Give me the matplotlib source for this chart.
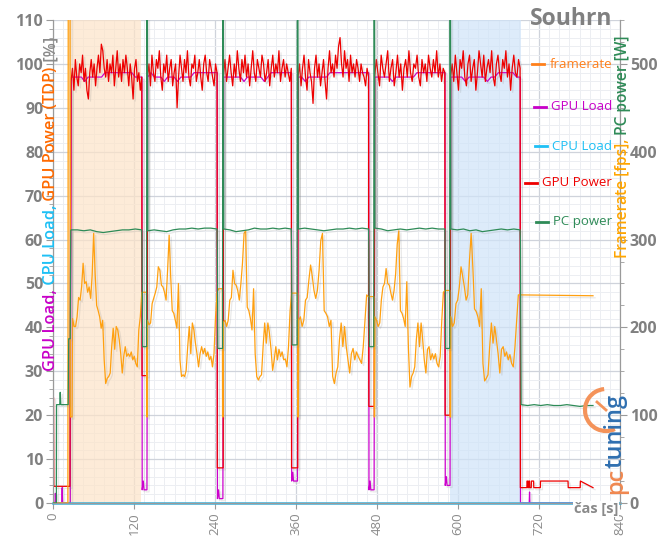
import numpy as np
import matplotlib
matplotlib.use("Agg")
import matplotlib.pyplot as plt
from matplotlib.transforms import IdentityTransform
from matplotlib.patches import Arc
from matplotlib.lines import Line2D
from matplotlib.ticker import MultipleLocator
import matplotlib.patheffects as pe

plt.rcParams['font.family'] = ['Open Sans', 'DejaVu Sans']

# ---------------- data ----------------
x_ticks = [0, 120, 240, 360, 480, 600, 720, 840]
left_ticks = [0, 10, 20, 30, 40, 50, 60, 70, 80, 90, 100, 110]
right_ticks = [0, 100, 200, 300, 400, 500]

highlight_spans = [(22.3, 130.6), (587.7, 693.0)]

# benchmark run boundaries [s]
run_end = [131.5, 243.0, 353.0, 467.5, 580.5, 692.0]
run_begin = [26.3, 139.5, 252.0, 362.5, 476.0, 588.5]

# framerate [fps] per run
fps_windows = [(29.0, 133.8), (140.0, 245.4), (252.5, 353.6), (364.0, 467.2), (477.0, 580.7), (589.5, 689.4)]
fps_run1 = [210, 201, 201, 212, 234, 231, 246, 273, 250, 252, 240, 246, 233, 259, 307, 261, 225, 219, 212, 199,
            208, 163, 136, 142, 144, 148, 178, 199, 175, 201, 197, 186, 170, 148, 167, 178, 167, 170, 167, 172,
            163, 167, 159, 155, 197, 212, 240, 240]
fps_run2 = [208, 203, 205, 227, 233, 239, 246, 269, 265, 248, 246, 240, 231, 265, 305, 258, 219, 216, 208, 199,
            250, 163, 144, 146, 144, 151, 178, 201, 170, 205, 197, 182, 170, 155, 170, 178, 170, 176, 167, 172,
            163, 167, 155, 170, 212, 240, 244]
fps_run3 = [206, 208, 201, 208, 231, 234, 265, 250, 248, 242, 231, 250, 273, 307, 310, 223, 219, 210, 197, 244,
            170, 144, 140, 144, 146, 178, 205, 182, 205, 193, 175, 151, 163, 178, 163, 175, 167, 172, 163, 164,
            155, 178, 219, 239]
fps_run4 = [208, 212, 201, 208, 231, 234, 254, 271, 258, 242, 233, 242, 265, 299, 307, 219, 216, 212, 201, 208,
            144, 136, 148, 155, 186, 205, 178, 201, 178, 163, 148, 170, 176, 163, 172, 167, 163, 159, 178, 208,
            237, 235]
fps_run5 = [212, 208, 201, 205, 231, 246, 250, 267, 250, 248, 239, 231, 242, 261, 295, 310, 219, 216, 210, 201,
            252, 178, 132, 144, 148, 155, 186, 205, 178, 205, 186, 163, 148, 175, 178, 163, 170, 164, 170, 159,
            155, 167, 208, 240, 242]
fps_run6 = [212, 201, 205, 227, 231, 246, 269, 258, 246, 231, 237, 276, 307, 269, 221, 218, 212, 201, 244, 159,
            139, 142, 146, 178, 205, 182, 201, 186, 170, 148, 175, 178, 167, 172, 163, 169, 159, 155, 178, 208, 237]
fps_start_t = [0, 22.0, 22.6, 25.2, 25.8, 28.2]
fps_start_v = [0, 0, 620, 620, 98, 98]
gap_fps_low = [98, 98, 98, 98, 98]
fps_tail_t = [800.0]
fps_tail_v = [236]

# GPU power [% TDP] per run
gpu_pow_run1 = [96, 99, 94, 101, 97, 95, 100, 98, 102, 96, 99, 94, 92, 98, 101, 97, 100, 95, 99, 102, 98, 104.5,
                103, 99, 97, 101, 96, 100, 98, 102, 95, 99, 103, 97, 100, 96, 101, 98, 102, 99, 95, 100, 97, 92,
                99, 101, 96, 98, 94, 97]
gpu_pow_run2 = [97, 100, 95, 102, 98, 96, 101, 99, 103, 97, 94, 100, 98, 102, 96, 99, 101, 95, 98, 100, 90, 97,
                102, 99, 96, 101, 98, 103, 97, 95, 100, 99, 102, 96, 98, 101, 97, 94, 100, 102, 98, 96, 101, 99,
                97, 95, 100, 98]
gpu_pow_run3 = [97, 101, 96, 99, 102, 98, 95, 100, 97, 103, 99, 96, 101, 98, 102, 97, 100, 95, 99, 103, 98, 96,
                101, 99, 97, 102, 100, 96, 98, 101, 95, 99, 102, 97, 100, 98, 103, 96, 99, 101, 97, 100, 98, 96, 99]
gpu_pow_run4 = [97, 100, 95, 99, 102, 97, 94, 101, 98, 96, 91, 99, 102, 97, 100, 95, 98, 101, 96, 92, 99, 103,
                98, 100, 97, 102, 99, 104, 106, 100, 97, 103, 99, 101, 96, 102, 98, 100, 97, 101, 99, 96, 100, 98,
                97, 95, 99, 97]
gpu_pow_run5 = [97, 101, 98, 95, 102, 99, 97, 100, 103, 96, 99, 101, 95, 98, 102, 97, 100, 94, 99, 101, 97, 103,
                98, 96, 100, 99, 102, 97, 95, 101, 98, 100, 96, 102, 99, 97, 101, 98, 103, 97, 100, 96, 99, 98]
gpu_pow_run6 = [97, 100, 96, 102, 98, 94, 101, 99, 103, 97, 95, 100, 102, 96, 99, 101, 94, 98, 103, 100, 97, 102,
                96, 99, 101, 98, 103, 97, 95, 100, 102, 98, 96, 101, 99, 103, 97, 100, 94, 99, 102, 98, 97, 101, 99]
gpu_pow_start_t = [0, 0.8, 1.2, 25.0, 25.6]
gpu_pow_start_v = [24, 24, 3.8, 3.8, 43]
gap_gpu_pow_low = [29, 8, 8, 22, 20]
gpu_pow_tail_t = [692.4, 702.0, 702.3, 703.0, 703.3, 704.5, 704.8, 706.0, 706.3, 708.5, 708.8, 712.0, 712.3,
                  722.0, 722.3, 763.0, 763.3, 781.0, 781.3, 800.0]
gpu_pow_tail_v = [3.5, 3.5, 5, 5, 3.5, 3.5, 5, 5, 3.5, 3.5, 5, 5, 3.5, 3.5, 5, 5, 3.5, 3.5, 5, 3.5]

# GPU load [%] per run
gpu_load_run1 = [97, 97, 97, 97, 96, 97, 97, 97, 97, 97, 98, 98, 98, 98, 98, 98, 98, 98, 98, 97, 97, 97]
gpu_load_run2 = [97, 98, 97, 97, 97, 96, 97, 97, 97, 96, 97, 97, 97, 97, 98, 98, 98, 98, 98, 98, 98, 98]
gpu_load_run3 = [97, 97, 97, 97, 97, 97, 96, 97, 97, 97, 97, 97, 96, 97, 98, 98, 98, 98, 98, 98, 98]
gpu_load_run4 = [97, 97, 96, 97, 97, 97, 97, 97, 97, 98, 98, 98, 98, 98, 98, 98, 98, 98, 98, 98, 98]
gpu_load_run5 = [97, 97, 97, 97, 97, 96, 97, 97, 97, 97, 97, 97, 98, 98, 98, 98, 98, 98, 98, 98, 98]
gpu_load_run6 = [97, 97, 97, 97, 96, 97, 97, 97, 97, 97, 96, 97, 97, 98, 98, 98, 98, 98, 97, 97]
gpu_load_start_t = [0, 3.0, 3.5, 4.2, 13.0, 13.6, 14.2, 25.6, 26.2]
gpu_load_start_v = [0, 0, 2.2, 0, 0, 3.5, 0, 0, 45]
gap_gpu_load_low = [3, 1, 5, 3, 4]
gap_gpu_load_mid = [52, 50, 52, 52, 52]
gpu_load_tail_t = [692.6, 705.5, 706.0, 706.5, 800.0]
gpu_load_tail_v = [0, 0, 2.5, 0, 0]

# CPU load [%]
cpu_load_t = [0, 840]
cpu_load_v = [0, 0]

# PC power [W] per run
pc_run1 = [311, 311, 310, 311, 309, 308, 309, 310, 311, 311, 312, 311]
pc_run2 = [310, 311, 310, 309, 311, 312, 312, 313, 312, 313, 313, 312]
pc_run3 = [312, 311, 309, 310, 311, 313, 312, 312, 313, 312, 313, 312]
pc_run4 = [312, 313, 312, 311, 310, 311, 312, 312, 313, 312, 313, 312]
pc_run5 = [313, 312, 310, 311, 312, 311, 312, 313, 312, 313, 312, 312]
pc_run6 = [312, 311, 312, 310, 311, 309, 310, 311, 312, 311, 312, 311]
pc_start_t = [0, 5.0, 5.3, 10.0, 10.7, 11.5, 22.5, 23.3, 25.5, 26.3]
pc_start_v = [0, 0, 112, 112, 126, 112, 112, 187, 187, 310]
gap_pc_mid = [290, 292, 290, 292, 290]
gap_pc_low = [178, 176, 180, 178, 176]
gap_pc_spike = [620, 620, 620, 620, 620]
pc_tail_v = [296, 112, 111, 112, 111, 112, 111, 111, 112, 111, 110, 111, 111]

# ---------------- assemble series ----------------
fps_runs = [fps_run1, fps_run2, fps_run3, fps_run4, fps_run5, fps_run6]
pow_runs = [gpu_pow_run1, gpu_pow_run2, gpu_pow_run3, gpu_pow_run4, gpu_pow_run5, gpu_pow_run6]
load_runs = [gpu_load_run1, gpu_load_run2, gpu_load_run3, gpu_load_run4, gpu_load_run5, gpu_load_run6]
pc_runs = [pc_run1, pc_run2, pc_run3, pc_run4, pc_run5, pc_run6]

fps_t, fps_v = list(fps_start_t), list(fps_start_v)
for k in range(6):
    s, e = fps_windows[k]
    vals = fps_runs[k]
    fps_t += list(np.linspace(s, e, len(vals))); fps_v += vals
    if k < 5:
        ns = fps_windows[k + 1][0]
        fps_t += [ns - 1.6, ns - 1.3, ns - 0.5]
        fps_v += [vals[-1], gap_fps_low[k], gap_fps_low[k]]
fps_t += fps_tail_t; fps_v += fps_tail_v

pow_t, pow_v = list(gpu_pow_start_t), list(gpu_pow_start_v)
for k in range(6):
    s = run_begin[k] + (0.5 if k > 0 else 0.4)
    e = run_end[k]
    vals = pow_runs[k]
    pow_t += list(np.linspace(s, e, len(vals))); pow_v += vals
    if k < 5:
        pow_t += [e + 0.4, run_begin[k + 1] + 0.1]
        pow_v += [gap_gpu_pow_low[k]] * 2
pow_t += gpu_pow_tail_t; pow_v += gpu_pow_tail_v

load_t, load_v = list(gpu_load_start_t), list(gpu_load_start_v)
for k in range(6):
    s = run_begin[k] + 0.8
    e = run_end[k] + 0.3
    vals = load_runs[k]
    load_t += list(np.linspace(s, e, len(vals))); load_v += vals
    if k < 5:
        lo = gap_gpu_load_low[k]
        bs = run_begin[k + 1]
        load_t += [e + 0.3, e + 2.0, e + 3.0, bs - 0.3, bs + 0.3]
        load_v += [lo, lo + 2, lo, lo, gap_gpu_load_mid[k]]
load_t += gpu_load_tail_t; load_v += gpu_load_tail_v

pc_t, pc_v = list(pc_start_t), list(pc_start_v)
for k in range(6):
    s = run_begin[k] + (1.0 if k > 0 else 0.4)
    e = run_end[k]
    vals = pc_runs[k]
    pc_t += list(np.linspace(s, e, len(vals))); pc_v += vals
    if k < 5:
        bs = run_begin[k + 1]
        pc_t += [e + 0.4, e + 1.2, bs - 0.8, bs - 0.5, bs + 0.2]
        pc_v += [gap_pc_mid[k], gap_pc_low[k], gap_pc_low[k], gap_pc_spike[k], gap_pc_spike[k]]
pc_t += list(np.concatenate([[run_end[5] + 0.5], np.linspace(run_end[5] + 1.5, 800, len(pc_tail_v) - 1)]))
pc_v += pc_tail_v

# ---------------- figure ----------------
W, H = 663, 541
fig = plt.figure(figsize=(W / 100, H / 100), dpi=100)
L, R, T, B = 53, 620, 20, 503
ax = fig.add_axes([L / W, 1 - B / H, (R - L) / W, (B - T) / H])
ax2 = ax.twinx()

ax.set_xlim(0, 840)
ax.set_ylim(0, 110)
ax2.set_ylim(0, 550)

ax.set_axisbelow(True)
ax.xaxis.set_major_locator(MultipleLocator(120))
ax.xaxis.set_minor_locator(MultipleLocator(15))
ax.yaxis.set_major_locator(MultipleLocator(10))
ax.yaxis.set_minor_locator(MultipleLocator(2))
ax2.yaxis.set_major_locator(MultipleLocator(100))
ax2.yaxis.set_minor_locator(MultipleLocator(25))
ax.grid(which='major', color='#cfd3db', lw=0.9)
ax.grid(which='minor', color='#eceef2', lw=0.7)

for sp in ['top']:
    ax.spines[sp].set_visible(False)
    ax2.spines[sp].set_visible(False)
for a in (ax, ax2):
    a.spines['left'].set_color('#9a9a9a')
    a.spines['right'].set_color('#9a9a9a')
    a.spines['bottom'].set_color('#9a9a9a')

for s0, s1, c in [(highlight_spans[0][0], highlight_spans[0][1], '#fde3c8'),
                  (highlight_spans[1][0], highlight_spans[1][1], '#cfe3f8')]:
    ax.axvspan(s0, s1, color=c, alpha=0.7, lw=0, zorder=0.8)

shadow = [pe.SimpleLineShadow(offset=(1.5, -1.5), shadow_color='#888888', alpha=0.18), pe.Normal()]

ax.plot(load_t, load_v, color='#cc00cc', lw=0.9, zorder=3, path_effects=shadow)
ax.plot(pow_t, pow_v, color='#ee0000', lw=0.9, zorder=4, path_effects=shadow)
ax.plot(cpu_load_t, cpu_load_v, color='#3cb2dc', lw=1.8, zorder=5, clip_on=False)
ax2.plot(fps_t, fps_v, color='#ffa010', lw=0.9, zorder=3, path_effects=shadow)
ax2.plot(pc_t, pc_v, color='#2e8b57', lw=0.9, zorder=4, path_effects=shadow)

ax.set_xticks(x_ticks)
ax.set_yticks(left_ticks)
ax2.set_yticks(right_ticks)
ax.tick_params(axis='x', which='major', length=4, color='#9a9a9a', labelcolor='#8a8a8a',
               labelsize=9.5, labelrotation=90, pad=3)
ax.tick_params(axis='x', which='minor', length=0)
ax.tick_params(axis='y', which='major', length=5, color='#9a9a9a', labelcolor='#808080', labelsize=11.5, pad=2)
ax.tick_params(axis='y', which='minor', length=3, color='#9a9a9a')
ax2.tick_params(axis='y', which='major', length=5, color='#9a9a9a', labelcolor='#808080', labelsize=11.5, pad=2)
ax2.tick_params(axis='y', which='minor', length=3, color='#9a9a9a')
for lab in ax.get_yticklabels() + ax2.get_yticklabels():
    lab.set_fontweight('bold')

fig.canvas.draw()
rend = fig.canvas.get_renderer()
ID = IdentityTransform()


def text_len(s, **kw):
    t1 = fig.text(0, 0, s + 'x', transform=ID, **kw)
    t2 = fig.text(0, 0, 'x', transform=ID, **kw)
    w = t1.get_window_extent(rend).width - t2.get_window_extent(rend).width
    t1.remove(); t2.remove()
    return w


def vtext(pieces, x, y0, **kw):
    prefix = ''
    for s, c in pieces:
        off = text_len(prefix, **kw) if prefix else 0
        fig.text(x, y0 + off, s, color=c, rotation=90, rotation_mode='anchor',
                 ha='left', va='center', transform=ID, **kw)
        prefix += s


vtext([('GPU Load,', '#c800c8'), (' CPU Load,', '#1ec0f5'), (' GPU Power (TDP)', '#ff6a00'), (' [%]', '#8a8a8a')],
      51, H - 371, fontsize=11.8, fontweight='semibold')
vtext([('Framerate [fps],', '#ffa500'), (' PC power [W]', '#2e8b57')],
      623, H - 258, fontsize=11.2, fontweight='semibold')

fig.text(612, H - 19, 'Souhrn', transform=ID, ha='right', va='center', fontsize=16.5,
         fontweight='bold', color='#808080')
fig.text(618, H - 509, 'čas [s]', transform=ID, ha='right', va='center', fontsize=10.5,
         fontweight='bold', color='#8a8a8a',
         bbox=dict(facecolor='white', edgecolor='none', pad=0.5))

legend_items = [('framerate', '#ff7f1a', 64), ('GPU Load', '#c800c8', 107), ('CPU Load', '#1ec0f5', 146),
                ('GPU Power', '#ee0000', 183), ('PC power', '#2e8b57', 222)]
for name, col, py in legend_items:
    t = fig.text(612, H - py, name, transform=ID, ha='right', va='center', fontsize=9.5,
                 color=col, fontweight='medium')
    bb = t.get_window_extent(rend)
    fig.add_artist(Line2D([bb.x0 - 17, bb.x0 - 5], [H - py, H - py], color=col, lw=2, transform=ID))

# pctuning logo
fig.add_artist(Arc((606, H - 410), 42, 42, theta1=95, theta2=295, color='#f4935a', lw=3, transform=ID))
fig.add_artist(Line2D([606, 597], [H - 410, H - 402], color='#f4935a', lw=2, transform=ID))
vtext([('pc', '#f08850'), ('tuning', '#2f6fb0')], 616, H - 494, fontsize=17, fontweight='semibold')

fig.savefig('out.png', dpi=100)
